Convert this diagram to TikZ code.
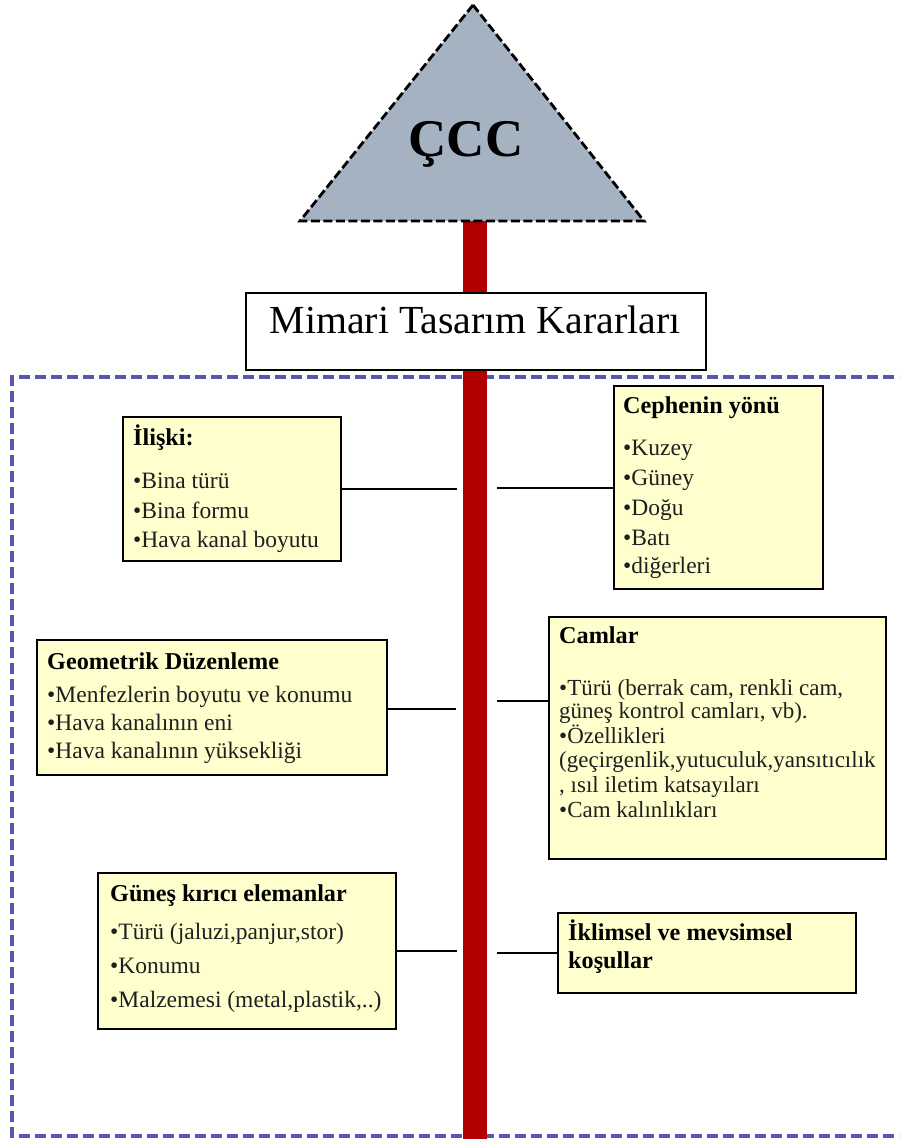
\documentclass[tikz,border=0pt]{standalone}
\usepackage{fontspec}
\setmainfont{Liberation Serif}
\definecolor{boxyellow}{RGB}{255,255,206}
\definecolor{frameblue}{RGB}{88,88,178}
\definecolor{barred}{RGB}{178,0,0}
\definecolor{trigrey}{RGB}{164,178,194}
\begin{document}
\begin{tikzpicture}[x=1pt,y=-1pt,
 box/.style={draw=black, line width=2.2pt, fill=boxyellow, anchor=north west, inner sep=0pt},
 ln/.style={anchor=base west, inner sep=0pt, font=\fontsize{23.5}{27}\selectfont, text=black!88},
 lnc/.style={anchor=base west, inner sep=0pt, font=\fontsize{23}{27}\selectfont, text=black!88},
 hd/.style={anchor=base west, inner sep=0pt, font=\bfseries\fontsize{24.2}{28}\selectfont, text=black},
 conn/.style={draw=black, line width=2pt},
 frame/.style={draw=frameblue, line width=3.5pt, dash pattern=on 11pt off 5pt},
 tri/.style={draw=black, line width=2.8pt, dash pattern=on 9pt off 3.5pt, fill=trigrey, line join=miter}]
\clip (0,0) rectangle (899,1139);
\fill[white] (0,0) rectangle (899,1139);
% frame
\draw[frame] (910,377) -- (12,377) -- (12,1136) -- (910,1136);
% spine
\node[fill=barred, inner sep=0pt, minimum width=24pt, minimum height=920pt, anchor=north] (spine) at (475,221) {};
% triangle
\draw[tri] (473,5) -- (300,221) -- (644,221) -- cycle;
\node[anchor=base, inner sep=0pt, font=\bfseries\fontsize{53}{60}\selectfont] (ccc) at (466,157) {ÇCC};
% title box
\node[draw=black, line width=2.2pt, fill=white, minimum width=460pt, minimum height=77pt, anchor=north west, inner sep=0pt] (mtk) at (245,292) {};
\node[anchor=base, inner sep=0pt, font=\fontsize{39.8}{45}\selectfont] (mtkt) at (475,333) {Mimari Tasarım Kararları};
% boxes
\node[box, minimum width=218pt, minimum height=144pt] (ilski) at (122,416) {};
\node[box, minimum width=209pt, minimum height=203pt] (ceph) at (613,385) {};
\node[box, minimum width=350pt, minimum height=135pt] (geo) at (36,639) {};
\node[box, minimum width=337pt, minimum height=242pt] (cam) at (548,616) {};
\node[box, minimum width=298pt, minimum height=156pt] (gun) at (97,872) {};
\node[box, minimum width=298pt, minimum height=80pt] (ikl) at (557,912) {};
% texts: İlişki
\node[hd] (t1) at (133,445) {İlişki:};
\node[ln] (t2) at (133,488) {•Bina türü};
\node[ln] (t3) at (133,518) {•Bina formu};
\node[ln] (t4) at (133,547) {•Hava kanal boyutu};
% Cephenin
\node[hd] (c1) at (623,413) {Cephenin yönü};
\node[ln] (c2) at (623,455) {•Kuzey};
\node[ln] (c3) at (623,485) {•Güney};
\node[ln] (c4) at (623,515) {•Doğu};
\node[ln] (c5) at (623,545) {•Batı};
\node[ln] (c6) at (623,573) {•diğerleri};
% Geometrik
\node[hd] (g1) at (47,669) {Geometrik Düzenleme};
\node[ln] (g2) at (47,702) {•Menfezlerin boyutu ve konumu};
\node[ln] (g3) at (47,730) {•Hava kanalının eni};
\node[ln] (g4) at (47,758) {•Hava kanalının yüksekliği};
% Camlar
\node[hd] (k1) at (559,643) {Camlar};
\node[lnc] (k2) at (559,695) {•Türü (berrak cam, renkli cam,};
\node[lnc] (k3) at (559,718) {güneş kontrol camları, vb).};
\node[lnc] (k4) at (559,743) {•Özellikleri};
\node[lnc] (k5) at (559,767) {(geçirgenlik,yutuculuk,yansıtıcılık};
\node[lnc] (k6) at (559,792) {, ısıl iletim katsayıları};
\node[lnc] (k7) at (559,817) {•Cam kalınlıkları};
% Güneş
\node[hd] (s1) at (110,901) {Güneş kırıcı elemanlar};
\node[ln] (s2) at (110,939) {•Türü (jaluzi,panjur,stor)};
\node[ln] (s3) at (110,973) {•Konumu};
\node[ln] (s4) at (110,1007) {•Malzemesi (metal,plastik,..)};
% İklimsel
\node[hd] (m1) at (568,940) {İklimsel ve mevsimsel};
\node[hd] (m2) at (568,968) {koşullar};
% connectors
\coordinate (camc) at ([yshift=37pt]cam.west);
\coordinate (geoc) at ([yshift=-1.5pt]geo.east);
\draw[conn, shorten >=6pt] (ilski.east) -- (ilski.east -| spine.west);
\draw[conn, shorten >=7pt] (geoc) -- (geoc -| spine.west);
\draw[conn, shorten >=6pt] (gun.east) -- (gun.east -| spine.west);
\draw[conn, shorten <=10pt] (ceph.west -| spine.east) -- (ceph.west);
\draw[conn, shorten <=10pt] (camc -| spine.east) -- (camc);
\draw[conn, shorten <=10pt] (ikl.west -| spine.east) -- (ikl.west);
\end{tikzpicture}
\end{document}
